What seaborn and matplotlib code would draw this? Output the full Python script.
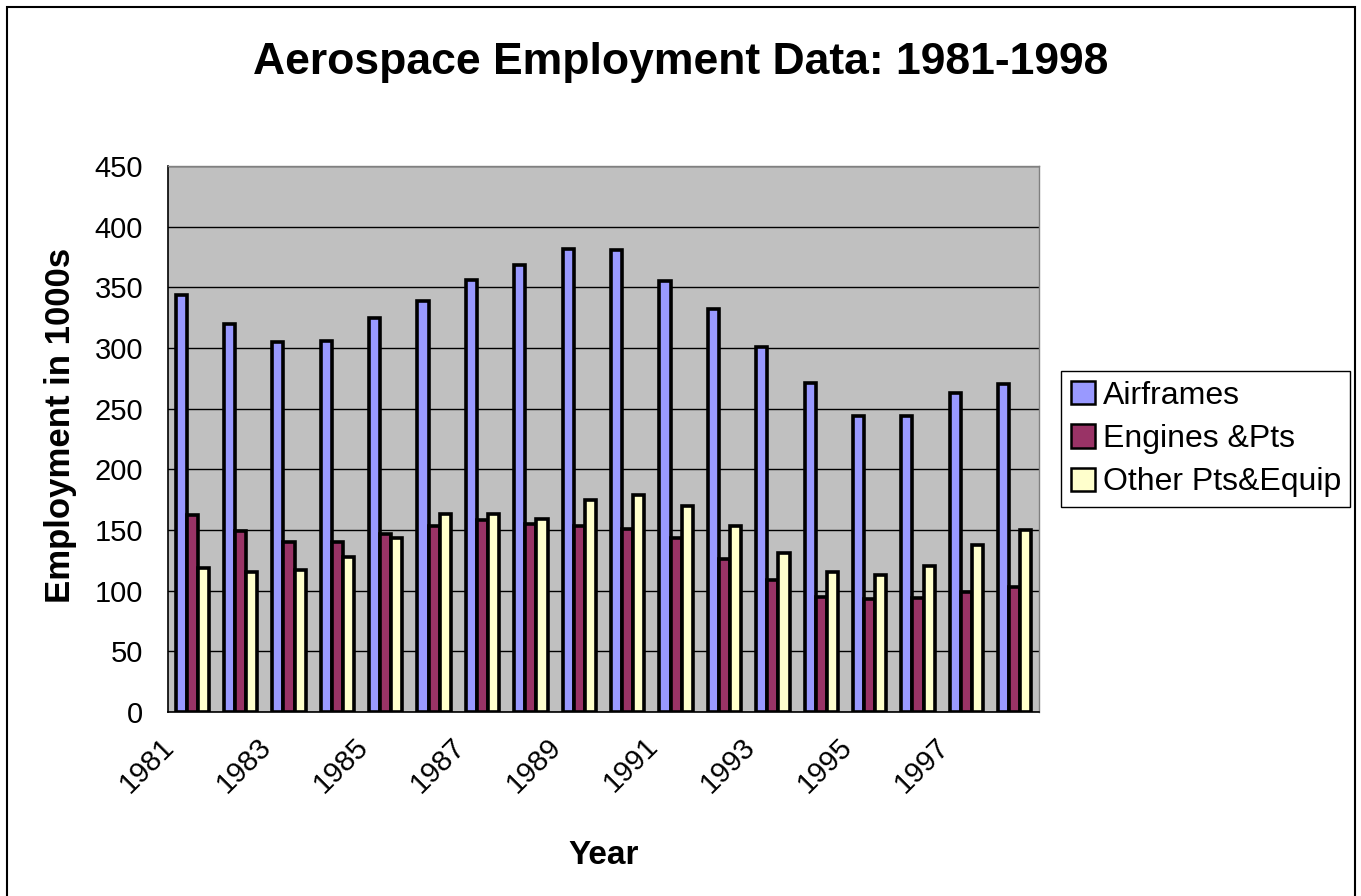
import pandas as pd
import matplotlib
matplotlib.use("Agg")
import matplotlib.pyplot as plt
import matplotlib.transforms as mtransforms
import seaborn as sns
from matplotlib.patches import Rectangle, Patch

years = list(range(1981, 1999))
airframes = [344, 320, 305, 306, 325, 339, 356, 368, 382, 381, 355, 332, 301, 271, 244, 244, 263, 270]
engines = [162, 149, 140, 140, 147, 153, 158, 155, 153, 151, 143, 126, 109, 95, 93, 94, 99, 103]
other = [119, 115, 117, 128, 143, 163, 163, 159, 175, 179, 170, 153, 131, 115, 113, 120, 138, 150]
series = ["Airframes", "Engines &Pts", "Other Pts&Equip"]
colors = ["#9999FF", "#993366", "#FFFFCC"]

df = pd.DataFrame({
    "Year": [str(y) for y in years] * 3,
    "value": airframes + engines + other,
    "series": [s for s in series for _ in years],
})

sns.set_style("white")
plt.rcParams['font.family'] = ['Liberation Sans', 'DejaVu Sans']
plt.rcParams['text.color'] = 'black'
plt.rcParams['axes.labelcolor'] = 'black'
plt.rcParams['xtick.color'] = 'black'
plt.rcParams['ytick.color'] = 'black'

fig = plt.figure(figsize=(13.61, 8.96), dpi=100)
ax = fig.add_axes([168/1361, 1 - 712/896, (1039 - 168)/1361, (712 - 166)/896])

sns.barplot(data=df, x="Year", y="value", hue="series", palette=colors,
            width=0.69, edgecolor="black", linewidth=2.6, saturation=1,
            ax=ax, legend=False, zorder=3)

ax.set_facecolor("#C0C0C0")
ax.set_ylim(0, 450)
ax.set_yticks(range(0, 451, 50))
ax.yaxis.grid(True, color="black", linewidth=1.0)
ax.set_axisbelow(True)

# labels every other year, tick marks between categories
ax.set_xticks(range(0, len(years), 2))
ax.set_xticklabels([str(y) for y in years[::2]], rotation=45, ha="right",
                   rotation_mode="anchor", fontsize=21)
ax.set_xticks([i - 0.5 for i in range(len(years) + 1)], minor=True)
ax.set_xlim(-0.5, len(years) - 0.5)
ax.tick_params(axis="x", which="major", length=0, pad=11)
ax.tick_params(axis="x", which="minor", length=7, width=1, color="black", direction="out")
ax.tick_params(axis="y", length=7, width=1, color="black", direction="out", labelsize=21, pad=11)

# nudge the year labels left, like the Excel original
shift = mtransforms.ScaledTranslation(-0.32, -0.05, fig.dpi_scale_trans)
for lab in ax.xaxis.get_majorticklabels():
    lab.set_transform(lab.get_transform() + shift)

for s in ["left", "bottom"]:
    ax.spines[s].set_color("black")
    ax.spines[s].set_linewidth(1.2)
for s in ["top", "right"]:
    ax.spines[s].set_color("#808080")
    ax.spines[s].set_linewidth(1.0)

ax.set_xlabel("Year", fontsize=24, fontweight="bold")
ax.xaxis.set_label_coords(0.5, -0.235)
ax.set_ylabel("Employment in 1000s", fontsize=25, fontweight="bold")
ax.yaxis.set_label_coords(-0.105, 0.5256)

fig.suptitle("Aerospace Employment Data: 1981-1998", fontsize=32, fontweight="bold",
             x=0.5, y=1 - 42/896, va="top")

handles = [Patch(facecolor=c, edgecolor="black", linewidth=1.8) for c in colors]
fig.legend(handles, series, loc="center left", bbox_to_anchor=(1061/1361, 1 - 439/896),
           fontsize=23, frameon=True, fancybox=False, framealpha=1, edgecolor="black",
           handlelength=0.75, handleheight=0.75, handletextpad=0.25, borderpad=0.3,
           labelspacing=0.42, borderaxespad=0)

fig.patches.append(Rectangle((7/1361, -0.01), (1355 - 7)/1361, 1.01 - 7/896,
                             transform=fig.transFigure, fill=False,
                             edgecolor="black", linewidth=1.5))

fig.savefig("out.png", dpi=100, facecolor="white")
